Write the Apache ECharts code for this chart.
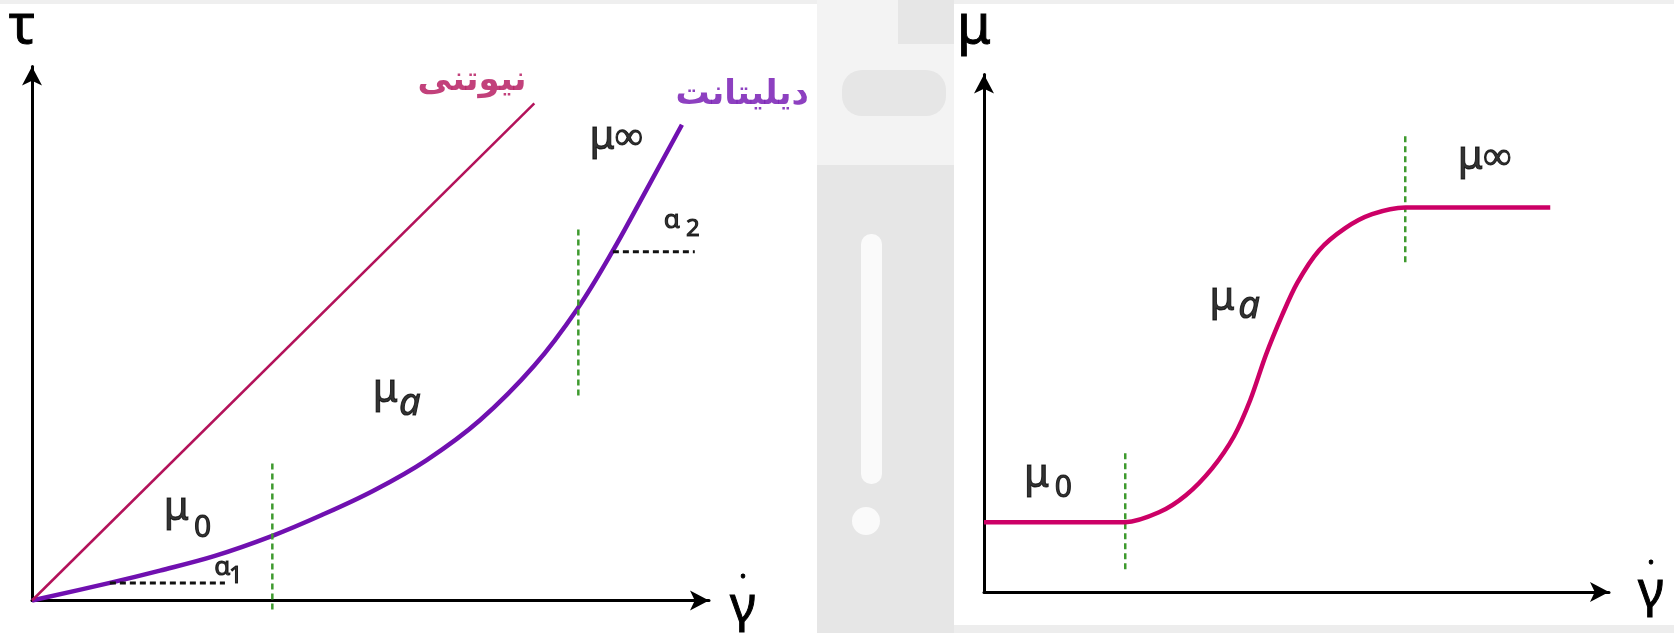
<!DOCTYPE html>
<html>
<head>
<meta charset="utf-8">
<script src="https://cdn.jsdelivr.net/npm/echarts@6/dist/echarts.min.js"></script>
<style>
  html, body { margin: 0; padding: 0; background: #fff; }
  #chart { width: 1674px; height: 633px; }
</style>
</head>
<body>
<div id="chart"></div>
<script>
// ---- Left panel: shear stress τ against shear rate γ̇ ----
const newtonianX = [0, 7.42];
const newtonianY = [0, 9.31];
const dilatantX = [0, 1.15, 1.89, 2.69, 3.55, 4.28, 5.05, 5.83, 6.62, 7.42, 8.06, 8.58, 9.08, 9.60];
const dilatantY = [0, 0.33, 0.56, 0.83, 1.21, 1.60, 2.06, 2.63, 3.38, 4.40, 5.47, 6.55, 7.70, 8.91];
// region boundaries (x, from y, to y)
const leftBounds = [[3.55, -0.17, 2.58], [8.07, 3.84, 6.99]];
// horizontal references for the slope angles (from x, to x, at y)
const slopeRefs = [[1.15, 2.85, 0.33], [8.58, 9.79, 6.53]];
// text: [x, y, text, role]
const leftNotes = [
  [2.13, 1.73, 'μ', 'sym'], [2.52, 1.35, '0', 'sub'],
  [2.81, 0.62, 'α', 'small'], [3.01, 0.45, '1', 'smallSub'],
  [5.22, 3.93, 'μ', 'sym'], [5.58, 3.68, 'a', 'ital'],
  [8.63, 8.66, 'μ∞', 'sym'],
  [9.45, 7.12, 'α', 'small'], [9.76, 6.96, '2', 'smallSub'],
  [6.50, 9.72, 'نیوتنی', 'faNewton'],
  [10.49, 9.46, 'دیلیتانت', 'faDilatant']
];

// ---- Right panel: viscosity μ against shear rate γ̇ ----
const viscX = [0, 1.20, 2.26, 2.80, 3.23, 3.65, 4.00, 4.26, 4.51, 4.77, 5.01, 5.36, 5.78, 6.21, 6.74, 7.90, 9.06];
const viscY = [1.35, 1.35, 1.35, 1.54, 1.87, 2.39, 3.01, 3.71, 4.58, 5.35, 5.97, 6.60, 7.03, 7.30, 7.43, 7.43, 7.43];
const rightBounds = [[2.26, 0.44, 2.74], [6.74, 6.37, 8.82]];
const rightNotes = [
  [0.84, 2.24, 'μ', 'sym'], [1.27, 2.01, '0', 'sub'],
  [3.81, 5.66, 'μ', 'sym'], [4.24, 5.50, 'a', 'ital'],
  [8.01, 8.40, 'μ∞', 'sym']
];

const C = {
  newton: '#B3125A',
  dilatant: '#7010B0',
  visc: '#CC0066',
  bound: '#3E9A2E',
  ref: '#111111',
  axis: '#000000',
  emblem: '#e6e6e6'
};

const FONT = 'Noto Sans';
const ink = { color: '#000', textBorderColor: '#000', textBorderWidth: 1 };

const textRoles = {
  sym:        Object.assign({ fontSize: 40, fontFamily: FONT }, ink),
  sub:        Object.assign({ fontSize: 30, fontFamily: FONT }, ink),
  ital:       Object.assign({ fontSize: 38, fontFamily: FONT, fontStyle: 'italic' }, ink),
  small:      Object.assign({ fontSize: 26, fontFamily: FONT }, ink),
  smallSub:   Object.assign({ fontSize: 24, fontFamily: FONT }, ink),
  faNewton:   { fontSize: 34, fontFamily: 'DejaVu Sans', fontWeight: 'bold', color: C.newton, textBorderWidth: 0 },
  faDilatant: { fontSize: 34, fontFamily: 'DejaVu Sans', fontWeight: 'bold', color: C.dilatant, textBorderWidth: 0 }
};

// shear-rate symbol: dot over gamma, stacked so the dot sits centred
const rateName = '{d|•}\n{g|γ}';
const rateRich = {
  d: Object.assign({ fontSize: 16, lineHeight: 14, fontFamily: FONT, align: 'center' }, ink),
  g: Object.assign({ fontSize: 50, lineHeight: 46, fontFamily: FONT, align: 'center' }, ink)
};

const zip = (xs, ys) => xs.map((x, i) => [x, ys[i]]);

function axisPair(gi, yName, xGap, yGap, xPad) {
  const base = {
    gridIndex: gi, type: 'value', min: 0, max: 10,
    axisTick: { show: false }, axisLabel: { show: false }, splitLine: { show: false },
    axisLine: { show: true, onZero: false, symbol: ['none', 'arrow'], symbolSize: [15, 19],
                lineStyle: { color: C.axis, width: 3 } }
  };
  return {
    x: Object.assign({}, base, { name: rateName, nameLocation: 'end', nameGap: xGap,
      nameTextStyle: { align: 'center', verticalAlign: 'middle', padding: xPad, rich: rateRich } }),
    y: Object.assign({}, base, { name: yName, nameLocation: 'end', nameGap: yGap,
      nameTextStyle: Object.assign({ fontSize: 54, fontFamily: FONT, align: 'center',
                       padding: [0, 20, 0, 0] }, ink) })
  };
}

const leftAxes = axisPair(0, 'τ', 34, 12, [0, 0, 0, 0]);
const rightAxes = axisPair(1, 'μ', 42, 20, [0, 0, 12, 0]);

function seg(gi, points, color, width, dash) {
  return {
    type: 'line', xAxisIndex: gi, yAxisIndex: gi, data: points, symbol: 'none', clip: false,
    silent: true, animation: false,
    lineStyle: { color: color, width: width, type: dash ? [6, 4] : 'solid', cap: 'butt' }
  };
}

// a smooth spline through the given points, placed with the axis scales
function spline(gi, xs, ys, color, width, smooth) {
  return {
    type: 'custom', coordinateSystem: 'cartesian2d', xAxisIndex: gi, yAxisIndex: gi,
    data: [[xs[0], ys[0]]], silent: true, animation: false, clip: false,
    renderItem: function (params, api) {
      const pts = xs.map((x, i) => api.coord([x, ys[i]]));
      return {
        type: 'polyline',
        shape: { points: pts, smooth: smooth },
        style: { stroke: color, lineWidth: width, fill: null, lineJoin: 'round' }
      };
    }
  };
}

function notes(gi, list) {
  return {
    type: 'scatter', xAxisIndex: gi, yAxisIndex: gi, symbolSize: 1, clip: false,
    silent: true, animation: false, itemStyle: { color: 'rgba(0,0,0,0)' },
    data: list.map(n => ({
      value: [n[0], n[1]],
      label: Object.assign({ show: true, position: 'inside', align: 'center', verticalAlign: 'middle',
                             formatter: n[2] }, textRoles[n[3]])
    }))
  };
}

const series = [];
// left panel curves
series.push(seg(0, zip(newtonianX, newtonianY), C.newton, 2.5, false));
leftBounds.forEach(b => series.push(seg(0, [[b[0], b[1]], [b[0], b[2]]], C.bound, 2.5, true)));
slopeRefs.forEach(r => series.push(seg(0, [[r[0], r[2]], [r[1], r[2]]], C.ref, 3, true)));
series.push(spline(0, dilatantX, dilatantY, C.dilatant, 4.5, 0.35));
series.push(notes(0, leftNotes));
// right panel curves
rightBounds.forEach(b => series.push(seg(1, [[b[0], b[1]], [b[0], b[2]]], C.bound, 2.5, true)));
const visc = seg(1, zip(viscX, viscY), C.visc, 4.5, false);
visc.smooth = 0.3;
series.push(visc);
series.push(notes(1, rightNotes));

// faint emblem in the gutter between the two panels
const emblem = [
  { type: 'rect', left: 0, top: 0, shape: { width: 1674, height: 4 }, style: { fill: '#efefef' } },
  { type: 'rect', left: 817, top: 0, shape: { width: 137, height: 633 }, style: { fill: '#f3f3f3' } },
  { type: 'rect', left: 898, top: 0, shape: { width: 56, height: 44 }, style: { fill: C.emblem } },
  { type: 'rect', left: 842, top: 70, shape: { width: 104, height: 46, r: 20 }, style: { fill: C.emblem } },
  { type: 'rect', left: 817, top: 165, shape: { width: 137, height: 468 }, style: { fill: C.emblem } },
  { type: 'rect', left: 861, top: 234, shape: { width: 21, height: 250, r: 10 }, style: { fill: '#fafafa' } },
  { type: 'circle', shape: { cx: 866, cy: 521, r: 14 }, style: { fill: '#fafafa' } },
  { type: 'rect', left: 954, top: 625, shape: { width: 720, height: 8 }, style: { fill: '#ededed' } }
].map(g => Object.assign({ z: -10, silent: true }, g));

const chart = echarts.init(document.getElementById('chart'), null, { renderer: 'canvas' });
chart.setOption({
  backgroundColor: '#ffffff',
  animation: false,
  graphic: emblem,
  grid: [
    { left: 32, top: 66, width: 677, height: 539 },
    { left: 984, top: 74, width: 625, height: 518 }
  ],
  xAxis: [leftAxes.x, rightAxes.x],
  yAxis: [leftAxes.y, rightAxes.y],
  series: series
});
</script>
</body>
</html>
